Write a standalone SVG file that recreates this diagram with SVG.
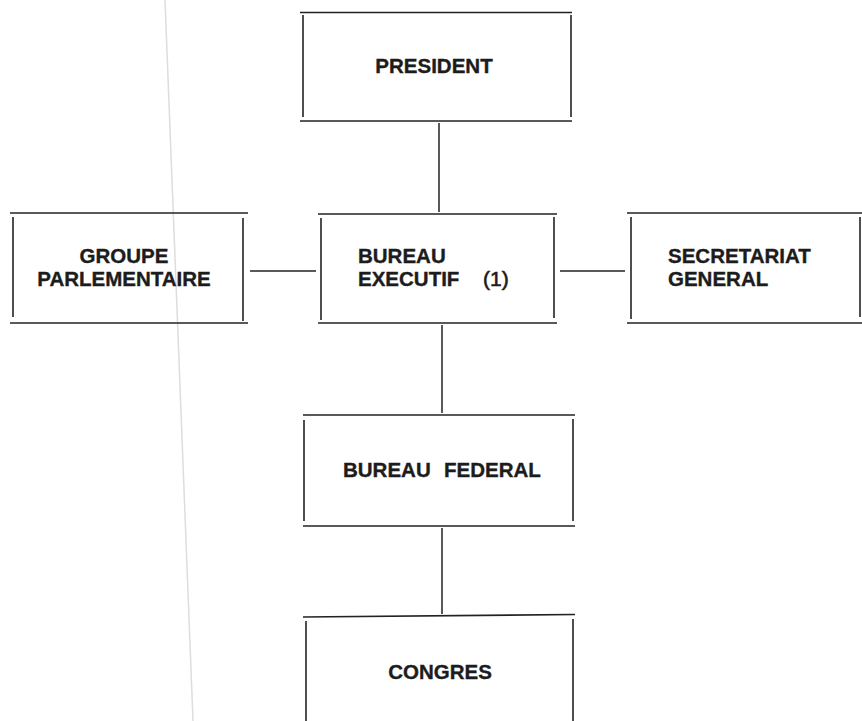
<svg xmlns="http://www.w3.org/2000/svg" width="862" height="721" viewBox="0 0 862 721">
<style>
.b{stroke:#222;stroke-width:1.6;fill:none;stroke-linecap:butt}
.c{stroke:#222;stroke-width:1.5;fill:none}
.t{font-family:"Liberation Sans",Arial,sans-serif;font-weight:bold;font-size:20.5px;fill:#1c1c1c;stroke:#1c1c1c;stroke-width:0.35}
.m{text-anchor:middle}
.n{font-weight:normal;font-size:21px;stroke-width:0.6}
</style>
<rect width="862" height="721" fill="#ffffff"/>
<line x1="165" y1="0" x2="193" y2="721" stroke="#dddddd" stroke-width="1.5"/>
<g id="connectors">
<line class="c" x1="439" y1="123" x2="439" y2="212"/>
<line class="c" x1="442" y1="325" x2="442" y2="413"/>
<line class="c" x1="442" y1="528" x2="442" y2="614"/>
<line class="c" x1="250" y1="271" x2="316" y2="271"/>
<line class="c" x1="560" y1="271" x2="625" y2="271"/>
</g>
<g id="president">
<line class="b" x1="300" y1="12.5" x2="572" y2="12.5"/>
<line class="b" x1="300" y1="121" x2="572" y2="121"/>
<line class="b" x1="303" y1="15" x2="303" y2="117"/>
<line class="b" x1="571" y1="15" x2="571" y2="117"/>
<text class="t m" x="434" y="73">PRESIDENT</text>
</g>
<g id="groupe">
<line class="b" x1="10" y1="213" x2="248" y2="213"/>
<line class="b" x1="10" y1="323" x2="248" y2="323"/>
<line class="b" x1="13" y1="217" x2="13" y2="317"/>
<line class="b" x1="243" y1="218" x2="243" y2="321"/>
<text class="t m" x="124" y="263">GROUPE</text>
<text class="t m" x="124" y="286">PARLEMENTAIRE</text>
</g>
<g id="bureau-executif">
<line class="b" x1="318" y1="214" x2="557" y2="214"/>
<line class="b" x1="318" y1="323" x2="557" y2="323"/>
<line class="b" x1="321" y1="218" x2="321" y2="320"/>
<line class="b" x1="554" y1="217" x2="554" y2="318"/>
<text class="t" x="358" y="263">BUREAU</text>
<text class="t" x="358" y="286">EXECUTIF<tspan class="n" x="483">(1)</tspan></text>
</g>
<g id="secretariat">
<line class="b" x1="627" y1="213" x2="862" y2="213"/>
<line class="b" x1="627" y1="323" x2="862" y2="323"/>
<line class="b" x1="631" y1="217" x2="631" y2="319" stroke-width="2.6"/>
<line class="b" x1="860" y1="217" x2="860" y2="317"/>
<text class="t" x="668" y="263">SECRETARIAT</text>
<text class="t" x="668" y="286">GENERAL</text>
</g>
<g id="bureau-federal">
<line class="b" x1="303" y1="415" x2="575" y2="415"/>
<line class="b" x1="303" y1="526" x2="575" y2="526"/>
<line class="b" x1="304" y1="420" x2="304" y2="521"/>
<line class="b" x1="573" y1="419" x2="573" y2="521"/>
<text class="t" x="343" y="477">BUREAU<tspan x="444">FEDERAL</tspan></text>
</g>
<g id="congres">
<line class="b" x1="303" y1="617" x2="575" y2="614.5"/>
<line class="b" x1="306" y1="621" x2="306" y2="721"/>
<line class="b" x1="573" y1="619" x2="573" y2="721"/>
<text class="t m" x="440" y="679">CONGRES</text>
</g>
</svg>
